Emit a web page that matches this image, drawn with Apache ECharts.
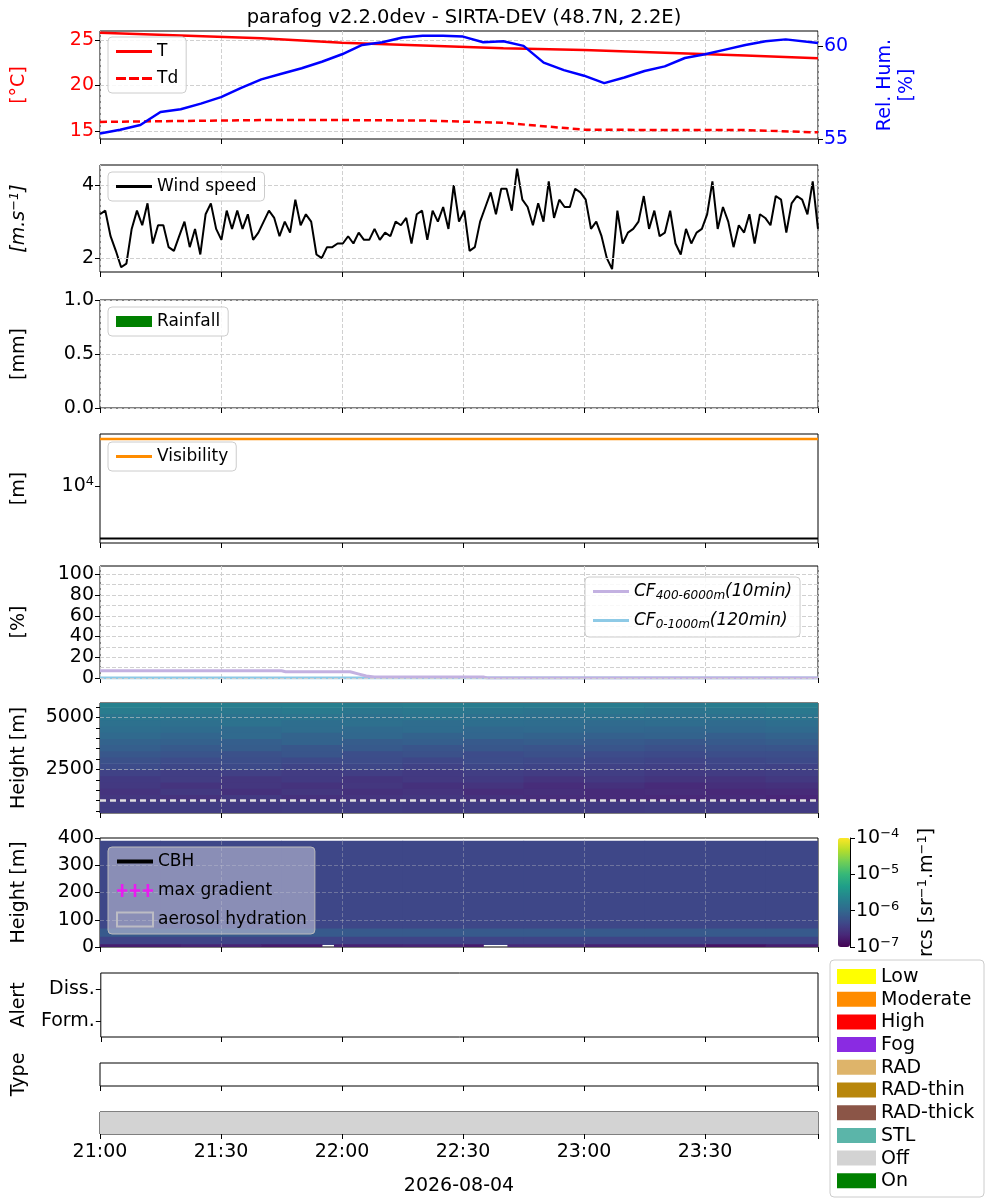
<!DOCTYPE html>
<html><head><meta charset="utf-8">
<script src="https://cdn.jsdelivr.net/npm/echarts@6/dist/echarts.min.js"></script>
<style>html,body{margin:0;padding:0;background:#fff}#c{width:1000px;height:1200px}</style>
</head><body><div id="c"></div>
<script>
// ---------- DATA ----------
const tickMinutes = [0,30,60,90,120,150];
const tickLabels = ['21:00','21:30','22:00','22:30','23:00','23:30'];
const dateLabel = '2026-08-04';
// temperature / dew point (minutes since 21:00)
const tempTimes = [0,20,40,60,80,100,120,140,160,178];
const tempT  = [25.8,25.5,25.2,24.7,24.4,24.1,23.9,23.6,23.3,23.0];
const tempTd = [16.0,16.1,16.2,16.2,16.15,15.9,15.15,15.1,15.1,14.85];
const rhTimes = [0,5,10,15,20,25,30,35,40,45,50,55,60,65,70,75,80,85,90,95,100,105,110,115,120,125,130,135,140,145,150,155,160,165,170,178];
const rhValues = [55.3,55.5,55.75,56.45,56.6,56.9,57.25,57.75,58.2,58.5,58.8,59.15,59.55,60.05,60.2,60.45,60.55,60.55,60.5,60.2,60.25,60.0,59.1,58.7,58.4,58.0,58.3,58.65,58.9,59.35,59.55,59.8,60.05,60.25,60.35,60.15];
const windValues = [3.2,3.3,2.6,2.2,1.75,1.85,2.8,3.3,2.9,3.5,2.4,2.9,2.9,2.3,2.2,2.6,3.0,2.3,2.8,2.1,3.2,3.5,2.8,2.5,3.3,2.8,3.3,2.8,3.2,2.5,2.7,3.0,3.3,3.1,2.6,3.0,2.7,3.6,2.9,3.2,3.0,
 2.1,2.0,2.3,2.3,2.4,2.4,2.6,2.4,2.7,2.5,2.5,2.8,2.5,2.7,2.6,3.0,2.9,3.1,2.4,3.2,3.3,2.5,3.3,3.0,3.4,2.8,4.0,3.0,3.3,2.2,2.3,3.0,3.4,3.8,3.2,3.9,3.9,3.3,4.45,3.6,3.4,2.9,3.5,3.0,4.1,3.1,3.6,3.4,3.4,3.9,3.8,3.6,2.8,3.0,2.6,2.0,1.7,3.3,2.4,2.7,2.8,3.0,3.7,2.8,3.3,2.6,2.7,3.3,2.4,2.1,2.8,2.4,2.7,2.8,3.2,4.1,2.8,3.4,3.0,2.3,2.9,2.7,3.2,2.4,3.2,3.1,2.9,3.7,3.6,2.7,3.5,3.7,3.6,3.2,4.1,2.8];
const windStart = 0, windEnd = 178;
const rainTimes = [], rainValues = [];
const visTimes = [0,178];
const visValues = [27000,27000];
const visLowValues = [3300,3300];
const cfTimes = [0,45,46,62,64,66,68,95,96,178];
const cf400 = [7,7,6,6,4,2,1,1,0,0];
const cf0 = [0,0,0,0,0,0,0,0,0,0];
// upper rcs map: log10(rcs) per height band (rows bottom->top) x 15-min columns
const rcsUpEdges = [400,700,1000,1300,1600,1900,2200,2500,2800,3100,3400,3700,4000,4300,4600,4900,5200,5500,5700];
const rcsColEdges = [0,15,30,45,60,75,90,105,120,135,150,165,178];
const rcsUp = [
 [-6.45,-6.45,-6.47,-6.45,-6.45,-6.47,-6.45,-6.45,-6.47,-6.45,-6.47,-6.47],
 [-6.45,-6.45,-6.47,-6.45,-6.45,-6.47,-6.45,-6.45,-6.47,-6.45,-6.47,-6.47],
 [-6.52,-6.56,-6.50,-6.58,-6.55,-6.52,-6.58,-6.62,-6.64,-6.66,-6.64,-6.68],
 [-6.55,-6.50,-6.58,-6.52,-6.58,-6.55,-6.62,-6.60,-6.64,-6.62,-6.66,-6.64],
 [-6.50,-6.55,-6.52,-6.56,-6.52,-6.58,-6.55,-6.62,-6.58,-6.64,-6.60,-6.58],
 [-6.48,-6.45,-6.52,-6.48,-6.54,-6.50,-6.48,-6.55,-6.50,-6.54,-6.55,-6.50],
 [-6.40,-6.44,-6.42,-6.46,-6.44,-6.48,-6.44,-6.46,-6.44,-6.48,-6.46,-6.44],
 [-6.30,-6.35,-6.32,-6.38,-6.35,-6.40,-6.35,-6.38,-6.40,-6.42,-6.38,-6.40],
 [-6.25,-6.30,-6.28,-6.32,-6.30,-6.35,-6.30,-6.33,-6.35,-6.38,-6.35,-6.32],
 [-6.18,-6.22,-6.25,-6.20,-6.28,-6.25,-6.30,-6.26,-6.30,-6.32,-6.28,-6.28],
 [-6.10,-6.15,-6.12,-6.18,-6.15,-6.20,-6.18,-6.22,-6.20,-6.25,-6.22,-6.20],
 [-6.05,-6.08,-6.10,-6.05,-6.12,-6.10,-6.15,-6.12,-6.15,-6.18,-6.15,-6.12],
 [-5.98,-6.02,-5.98,-6.04,-6.00,-6.05,-6.02,-6.05,-6.08,-6.05,-6.10,-6.05],
 [-5.92,-5.95,-5.97,-5.93,-5.98,-5.95,-6.00,-5.98,-6.00,-6.02,-6.00,-5.98],
 [-5.88,-5.90,-5.87,-5.92,-5.90,-5.94,-5.92,-5.94,-5.96,-5.93,-5.96,-5.92],
 [-5.82,-5.84,-5.86,-5.84,-5.88,-5.85,-5.88,-5.90,-5.88,-5.90,-5.88,-5.85],
 [-5.75,-5.78,-5.80,-5.77,-5.82,-5.80,-5.82,-5.84,-5.82,-5.85,-5.82,-5.80],
 [-5.68,-5.70,-5.72,-5.70,-5.74,-5.72,-5.74,-5.76,-5.74,-5.78,-5.74,-5.72]
];
// lower rcs map (0-400 m)
const rcsLowEdges = [10,40,70,390];
const rcsLow = [
 [-6.38,-6.38,-6.38,-6.38,-6.38,-6.38,-6.38,-6.38,-6.38,-6.38,-6.38,-6.38],
 [-6.15,-6.15,-6.15,-6.15,-6.15,-6.15,-6.15,-6.15,-6.15,-6.15,-6.15,-6.15],
 [-6.35,-6.35,-6.35,-6.35,-6.35,-6.35,-6.35,-6.35,-6.35,-6.35,-6.35,-6.35]
];
const rcsGroundEdges = [0,10];
const rcsGroundTimes = [0,20,40,55,58,75,90,95,101,120,150,165,178];
const rcsGround = [[-6.75,-6.70,-6.78,null,-6.72,-6.70,-6.78,null,-6.65,-6.72,-6.85,-6.75]];
const cbhHeight = 1000;
const offRanges = [[0,178]];
const alertCats = ['Form.','Diss.'];
const legendLabels = ['Low','Moderate','High','Fog','RAD','RAD-thin','RAD-thick','STL','Off','On'];
const legendColors = ['#ffff00','#ff8c00','#ff0000','#8a2be2','#deb46a','#b8860b','#8b5547','#5bb5a9','#d3d3d3','#008000'];

// ---------- CHART ----------
const F = 'DejaVu Sans';
const TF = 19;
const viridis = ['#440154','#482878','#3e4989','#31688e','#26828e','#1f9e89','#35b779','#6ece58','#b5de2b','#fde725'];
const grids = [
 {top:31,height:108},{top:165,height:107},{top:300,height:108},{top:434,height:109},
 {top:566,height:112},{top:703,height:110},{top:838,height:109},{top:973,height:64},
 {top:1063,height:23},{top:1112,height:22}
].map(g=>({left:100,width:718,top:g.top,height:g.height,show:true,borderColor:'#000',borderWidth:1,backgroundColor:'transparent'}));
grids.push({left:838,width:12,top:838,height:109,show:false});

const dash = {show:true,lineStyle:{type:'dashed',color:'#d0d0d0',width:1}};
const noGridX = [3,5,6,7,8,9];
const xAxes = grids.slice(0,10).map((g,i)=>({
 type:'value',gridIndex:i,min:0,max:178,interval:30,
 axisLine:{show:false},
 axisTick:{show:true,inside:false,length:5,lineStyle:{color:'#000'}},
 axisLabel:{show:i===9,color:'#000',fontSize:TF,fontFamily:F,margin:9,
   formatter:v=>{const k=tickMinutes.indexOf(v);return k>=0?tickLabels[k]:'';}},
 splitLine:noGridX.includes(i)?{show:false}:dash,
 name:i===9?dateLabel:'',nameLocation:'middle',nameGap:43,nameTextStyle:{color:'#000',fontSize:TF,fontFamily:F}
}));
xAxes.push({type:'category',gridIndex:10,show:false,data:['a']});

const lab = (c)=>({color:c||'#000',fontSize:TF,fontFamily:F,margin:6});
const tick = {show:true,inside:false,length:5,lineStyle:{color:'#000'}};
const NG = 70;
const nm = (t,c,gap)=>({name:t,nameLocation:'middle',nameGap:gap,nameRotate:90,nameTextStyle:{color:c||'#000',fontSize:TF,fontFamily:F,lineHeight:22}});
const supRich = {sup:{fontSize:13,verticalAlign:'top',padding:[0,0,9,0],fontFamily:F,color:'#000'},b:{fontSize:TF,fontFamily:F,color:'#000'}};
const supRichI = {sup:{fontSize:13,fontStyle:'italic',verticalAlign:'top',padding:[0,0,9,0],fontFamily:F,color:'#000'},b:{fontSize:TF,fontStyle:'italic',fontFamily:F,color:'#000'}};
const yAxes = [
 Object.assign({type:'value',gridIndex:0,min:14.12,max:25.99,axisLine:{show:false},axisTick:Object.assign({customValues:[15,20,25]},tick),
   axisLabel:Object.assign({customValues:[15,20,25]},lab('#ff0000')),splitLine:{show:false}},nm('[°C]','#ff0000',NG)),
 Object.assign({type:'value',gridIndex:0,position:'right',min:55,max:60.8,interval:5,axisLine:{show:false},axisTick:tick,
   axisLabel:lab('#0000ff'),splitLine:{show:false}},nm('Rel. Hum.\n[%]','#0000ff',56)),
 Object.assign({type:'value',gridIndex:1,min:1.62,max:4.55,axisLine:{show:false},axisTick:Object.assign({customValues:[2,4]},tick),
   axisLabel:Object.assign({customValues:[2,4]},lab()),splitLine:{show:false}},
   {name:'{b|[m.s}{sup|−1}{b|]}',nameLocation:'middle',nameGap:NG,nameRotate:90,nameTextStyle:{rich:supRichI}}),
 Object.assign({type:'value',gridIndex:2,min:0,max:1,interval:0.5,axisLine:{show:false},axisTick:tick,
   axisLabel:Object.assign({formatter:v=>v.toFixed(1)},lab()),splitLine:dash},nm('[mm]','#000',NG)),
 Object.assign({type:'value',gridIndex:3,min:3.4771,max:4.4771,axisLine:{show:false},axisTick:Object.assign({customValues:[4]},tick),
   axisLabel:Object.assign({customValues:[4],formatter:()=>'{b|10}{sup|4}',rich:supRich},lab()),splitLine:{show:false}},nm('[m]','#000',NG)),
 Object.assign({type:'value',gridIndex:4,min:0,max:108,axisLine:{show:false},axisTick:Object.assign({customValues:[0,20,40,60,80,100]},tick),
   axisLabel:Object.assign({customValues:[0,20,40,60,80,100]},lab()),splitLine:{show:false}},nm('[%]','#000',NG)),
 Object.assign({type:'value',gridIndex:5,min:400,max:5700,axisLine:{show:false},axisTick:Object.assign({customValues:[500,1000,1500,2000,2500,3000,3500,4000,4500,5000,5500]},tick,{length:4}),
   axisLabel:Object.assign({customValues:[2500,5000],formatter:v=>String(v)},lab()),splitLine:{show:false}},nm('Height [m]','#000',NG)),
 Object.assign({type:'value',gridIndex:6,min:0,max:400,interval:100,axisLine:{show:false},axisTick:tick,
   axisLabel:lab(),splitLine:{show:false}},nm('Height [m]','#000',NG)),
 Object.assign({type:'category',gridIndex:7,data:alertCats,axisLine:{show:false},axisTick:Object.assign({alignWithLabel:true},tick),
   axisLabel:lab(),splitLine:{show:false}},nm('Alert','#000',NG)),
 Object.assign({type:'value',gridIndex:8,min:0,max:1,axisLine:{show:false},axisTick:{show:false},axisLabel:{show:false},splitLine:{show:false}},nm('Type','#000',NG)),
 {type:'value',gridIndex:9,min:0,max:1,axisLine:{show:false},axisTick:{show:false},axisLabel:{show:false},splitLine:{show:false}},
 {type:'value',gridIndex:10,position:'right',min:-7,max:-4,interval:1,axisLine:{show:true,lineStyle:{color:'#000'}},axisTick:tick,
   axisLabel:Object.assign({formatter:v=>'{b|10}{sup|'+(v<0?'−':'')+Math.abs(v)+'}',rich:supRich},lab()),splitLine:{show:false},
   name:'{b|rcs [sr}{sup|−1}{b|.m}{sup|−1}{b|]}',nameLocation:'middle',nameGap:66,nameRotate:90,nameTextStyle:{rich:supRich}}
];
const hgrid = (xi,yi,vals,color,z)=>({type:'line',xAxisIndex:xi,yAxisIndex:yi,data:[],silent:true,z:z||1,
  markLine:{silent:true,symbol:'none',label:{show:false},lineStyle:{type:'dashed',color:color||'#d0d0d0',width:1},data:vals.map(v=>({yAxis:v}))}});
const vgrid = (xi,yi,color)=>({type:'line',xAxisIndex:xi,yAxisIndex:yi,data:[],silent:true,z:6,
  markLine:{silent:true,symbol:'none',label:{show:false},lineStyle:{type:'dashed',color:color,width:1},data:tickMinutes.slice(1).map(v=>({xAxis:v}))}});

const mkRects = (rowEdges,colEdges,mat)=>{const out=[];mat.forEach((row,r)=>row.forEach((v,c)=>{if(v!==null)out.push([colEdges[c],colEdges[c+1],rowEdges[r],rowEdges[r+1],v]);}));return out;};
const renderRect = (params,api)=>{const p0=api.coord([api.value(0),api.value(3)]);const p1=api.coord([api.value(1),api.value(2)]);
  return {type:'rect',shape:{x:p0[0],y:p0[1],width:p1[0]-p0[0]+0.6,height:p1[1]-p0[1]+0.6},style:{fill:api.visual('color')}};};
const windStep = (windEnd-windStart)/(windValues.length-1);
const zip=(a,b)=>a.map((x,i)=>[x,b[i]]);

const series = [
 hgrid(0,0,[15,20,25]),
 hgrid(1,2,[2,4]),
 hgrid(4,5,[0,10,20,30,40,50,60,70,80,90,100]),
 {name:'T',type:'line',xAxisIndex:0,yAxisIndex:0,symbol:'none',data:zip(tempTimes,tempT),lineStyle:{color:'#ff0000',width:2.5},itemStyle:{color:'#ff0000'},z:5},
 {name:'Td',type:'line',xAxisIndex:0,yAxisIndex:0,symbol:'none',data:zip(tempTimes,tempTd),lineStyle:{color:'#ff0000',width:2.5,type:[7,4]},itemStyle:{color:'#ff0000'},z:5},
 {name:'RH',type:'line',xAxisIndex:0,yAxisIndex:1,symbol:'none',data:zip(rhTimes,rhValues),lineStyle:{color:'#0000ff',width:2.5},itemStyle:{color:'#0000ff'},z:5},
 {name:'Wind speed',type:'line',xAxisIndex:1,yAxisIndex:2,symbol:'none',data:windValues.map((v,i)=>[windStart+i*windStep,v]),lineStyle:{color:'#000',width:2},itemStyle:{color:'#000'}},
 {name:'Rainfall',type:'bar',xAxisIndex:2,yAxisIndex:3,data:zip(rainTimes,rainValues),itemStyle:{color:'#008000'}},
 {name:'Visibility',type:'line',xAxisIndex:3,yAxisIndex:4,symbol:'none',data:visTimes.map((t,i)=>[t,Math.log10(visValues[i])]),lineStyle:{color:'#ff8c00',width:2.5},itemStyle:{color:'#ff8c00'}},
 {name:'visLow',type:'line',xAxisIndex:3,yAxisIndex:4,symbol:'none',data:visTimes.map((t,i)=>[t,Math.log10(visLowValues[i])]),lineStyle:{color:'#000',width:2}},
 {name:'cf400',type:'line',xAxisIndex:4,yAxisIndex:5,symbol:'none',data:zip(cfTimes,cf400),lineStyle:{color:'#c3b1e1',width:3},itemStyle:{color:'#c3b1e1'},z:4},
 {name:'cf0',type:'line',xAxisIndex:4,yAxisIndex:5,symbol:'none',data:zip(cfTimes,cf0),lineStyle:{color:'#8ecae6',width:3},itemStyle:{color:'#8ecae6'},z:3},
 {name:'rcsUp',type:'custom',xAxisIndex:5,yAxisIndex:6,data:mkRects(rcsUpEdges,rcsColEdges,rcsUp),encode:{x:[0,1],y:[2,3]},renderItem:renderRect,clip:true},
 {name:'cbhLine',type:'line',xAxisIndex:5,yAxisIndex:6,symbol:'none',data:[[0,cbhHeight],[178,cbhHeight]],lineStyle:{color:'#e0e0e0',width:2.5,type:[6,4]},z:7},
 {name:'rcsLow',type:'custom',xAxisIndex:6,yAxisIndex:7,data:mkRects(rcsLowEdges,rcsColEdges,rcsLow).concat(mkRects(rcsGroundEdges,rcsGroundTimes,rcsGround)),encode:{x:[0,1],y:[2,3]},renderItem:renderRect,clip:true},
 {name:'CBH',type:'line',xAxisIndex:6,yAxisIndex:7,symbol:'none',data:[],lineStyle:{color:'#000',width:2.5},itemStyle:{color:'#000'}},
 {name:'max gradient',type:'scatter',xAxisIndex:6,yAxisIndex:7,data:[],itemStyle:{color:'#ff00ff'}},
 {name:'aerosol hydration',type:'scatter',xAxisIndex:6,yAxisIndex:7,data:[],itemStyle:{color:'rgba(0,0,0,0)',borderColor:'#bbb',borderWidth:2}},
 {name:'off',type:'custom',xAxisIndex:9,yAxisIndex:10,data:offRanges.map(r=>[r[0],r[1],0,1]),encode:{x:[0,1],y:[2,3]},
   renderItem:(p,api)=>{const a=api.coord([api.value(0),1]),b=api.coord([api.value(1),0]);return {type:'rect',shape:{x:a[0],y:a[1],width:b[0]-a[0],height:b[1]-a[1]},style:{fill:'#d3d3d3'}};}},
 hgrid(5,6,[2500,5000],'rgba(200,200,200,0.6)',6),
 vgrid(5,6,'rgba(200,200,200,0.6)'),
 hgrid(6,7,[100,200,300],'rgba(200,200,200,0.35)',6),
 vgrid(6,7,'rgba(200,200,200,0.35)')
];

const legBase = {orient:'vertical',z:30,zlevel:0,backgroundColor:'rgba(255,255,255,0.85)',borderColor:'#ccc',borderWidth:1,borderRadius:4,padding:[6,8],itemGap:9,
  itemWidth:36,itemHeight:14,lineStyle:{opacity:0},textStyle:{fontSize:17,fontFamily:F,color:'#000'}};
const solid = 'path://M0,0h36v3h-36z';
const dashed = 'path://M0,0h10v3h-10z M13,0h10v3h-10z M26,0h10v3h-10z';
const li = (n,c,icon)=>({name:n,icon:icon||solid,itemStyle:{color:c,borderWidth:0,opacity:1},lineStyle:{opacity:0}});
const cfRich = {i:{fontStyle:'italic',fontSize:17,fontFamily:F,color:'#000'},s:{fontStyle:'italic',fontSize:12,fontFamily:F,color:'#000',verticalAlign:'bottom',padding:[9,0,0,0]}};
const plusPath = 'path://M0,4h3v-4h2v4h3v2h-3v4h-2v-4h-3z M10,4h3v-4h2v4h3v2h-3v4h-2v-4h-3z M20,4h3v-4h2v4h3v2h-3v4h-2v-4h-3z';
const legends = [
 Object.assign({},legBase,{left:108,top:37,itemGap:10,data:[li('T','#ff0000'),li('Td','#ff0000',dashed)]}),
 Object.assign({},legBase,{left:108,top:172,data:[li('Wind speed','#000')]}),
 Object.assign({},legBase,{left:108,top:307,itemHeight:11,data:[{name:'Rainfall',icon:'rect'}]}),
 Object.assign({},legBase,{left:108,top:442,data:[li('Visibility','#ff8c00')]}),
 Object.assign({},legBase,{left:585,top:577,itemGap:10,data:[li('cf400','#c3b1e1'),li('cf0','#8ecae6')],formatter:n=>n==='cf400'?'{i|CF}{s|400-6000m}{i|(10min)}':'{i|CF}{s|0-1000m}{i|(120min)}',textStyle:{rich:cfRich,fontSize:17}}),
 Object.assign({},legBase,{left:108,top:847,itemGap:12,backgroundColor:'rgba(200,200,220,0.55)',borderColor:'#bbb',
   data:[li('CBH','#000','path://M0,0h36v4h-36z'),{name:'max gradient',icon:plusPath,itemStyle:{color:'#ff00ff'}},
     {name:'aerosol hydration',icon:'rect',itemStyle:{color:'rgba(0,0,0,0)',borderColor:'#c8c8c8',borderWidth:2}}]})
];

const legendGraphics = [{type:'rect',shape:{x:830,y:960,width:154,height:237,r:4},style:{fill:'#fff',stroke:'#ccc',lineWidth:1}}];
legendLabels.forEach((l,i)=>{const y=969+i*22.7;
 legendGraphics.push({type:'rect',shape:{x:837,y:y,width:39,height:15},style:{fill:legendColors[i]}});
 legendGraphics.push({type:'text',x:881,y:y+8,style:{text:l,fontSize:19,fontFamily:F,fill:'#000',verticalAlign:'middle'}});});

const chart = echarts.init(document.getElementById('c'),null,{renderer:'canvas'});
chart.setOption({
 animation:false,
 title:{text:'parafog v2.2.0dev - SIRTA-DEV (48.7N, 2.2E)',left:459,textAlign:'center',top:3,textStyle:{fontSize:19.5,fontWeight:'normal',fontFamily:F,color:'#000'}},
 grid:grids,xAxis:xAxes,yAxis:yAxes,series:series,legend:legends,
 visualMap:{type:'continuous',min:-7,max:-4,dimension:4,seriesIndex:[12,14],inRange:{color:viridis},
   left:838,top:838,itemWidth:12,itemHeight:109,text:null,calculable:false,show:true,hoverLink:false,padding:0,textStyle:{fontSize:0}},
 graphic:legendGraphics
});
</script></body></html>
